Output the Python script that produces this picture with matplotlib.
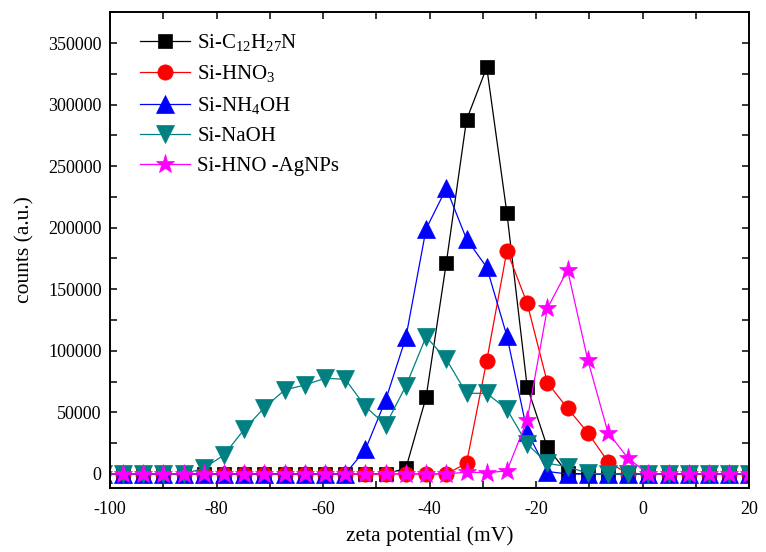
import matplotlib
matplotlib.use("Agg")
import matplotlib.pyplot as plt
from matplotlib.ticker import MultipleLocator, FormatStrFormatter

plt.rcParams['font.family'] = ['Liberation Serif', 'DejaVu Serif']
plt.rcParams['mathtext.fontset'] = 'custom'
plt.rcParams['mathtext.rm'] = 'Liberation Serif'
plt.rcParams['mathtext.it'] = 'Liberation Serif:italic'
plt.rcParams['mathtext.bf'] = 'Liberation Serif:bold'
plt.rcParams['axes.unicode_minus'] = False

# zeta potential bins (mV)
zeta = [-101.35, -97.56, -93.77, -89.97, -86.18, -82.38, -78.59, -74.79,
        -71.00, -67.20, -63.41, -59.61, -55.82, -52.02, -48.23, -44.43,
        -40.64, -36.84, -33.05, -29.25, -25.46, -21.66, -17.87, -14.07,
        -10.28, -6.48, -2.69, 1.11, 4.90, 8.70, 12.49, 16.29, 20.08]

si_c12 = [0, 0, 0, 0, 0, 0, 0, 0, 0, 0, 0, 0, 0, 0, 0, 4600,
          62300, 171600, 287500, 330300, 211700, 70900, 21700, 500,
          0, 0, 0, 0, 0, 0, 0, 0, 0]
si_hno3 = [0, 0, 0, 0, 0, 0, 0, 0, 0, 0, 0, 0, 0, 0, 0, 0,
           0, 0, 8700, 92000, 181300, 138600, 74200, 53300,
           33600, 10000, 0, 0, 0, 0, 0, 0, 0]
si_nh4oh = [0, 0, 0, 0, 0, 0, 0, 0, 0, 0, 0, 0, 0, 20000, 60100, 111000,
            199000, 232000, 190800, 167800, 112000, 34400, 2000, 0,
            0, 0, 0, 0, 0, 0, 0, 0, 0]
si_naoh = [0, 0, 0, 0, 0, 4600, 15400, 36300, 53900, 68200, 72300,
           77700, 76900, 54700, 39800, 71500, 111500, 93100, 65500, 65500,
           52500, 24400, 8700, 5900, 600, 0, 0, 0, 0, 0, 0, 0, 0]
si_agnps = [0, 0, 0, 0, 0, 0, 0, 0, 0, 0, 0, 0, 0, 0, 0, 0,
            0, 0, 1500, 1000, 2500, 43800, 134500, 165700, 92600,
            33600, 12700, 0, 0, 0, 0, 0, 0]

series = [
    (si_c12, 'Si-C$_{12}$H$_{27}$N', 'black', 's', 10),
    (si_hno3, 'Si-HNO$_3$', '#ff0000', 'o', 11),
    (si_nh4oh, 'Si-NH$_4$OH', '#0000ff', '^', 13),
    (si_naoh, 'Si-NaOH', '#008080', 'v', 13),
    (si_agnps, 'Si-HNO -AgNPs', '#ff00ff', '*', 14),
]

W, H = 766, 552
fig = plt.figure(figsize=(W / 100, H / 100), dpi=100)
ax = fig.add_axes([110 / W, 1 - 488 / H, (749 - 110) / W, (488 - 12) / H])

for ys, lab, col, mk, ms in series:
    ax.plot(zeta, ys, color=col, lw=0.9, marker=mk, ms=ms,
            markeredgewidth=0.5, markeredgecolor=col, label=lab)

ax.set_xlim(-100, 20)
ax.set_ylim(-11400, 375200)
ax.xaxis.set_major_locator(MultipleLocator(20))
ax.xaxis.set_minor_locator(MultipleLocator(10))
ax.yaxis.set_major_locator(MultipleLocator(50000))
ax.yaxis.set_minor_locator(MultipleLocator(25000))
ax.yaxis.set_major_formatter(FormatStrFormatter('%d'))
ax.tick_params(which='both', direction='in', top=True, right=True,
               length=5, width=1.1, labelsize=13, pad=6)
ax.tick_params(axis='x', pad=9)
for sp in ax.spines.values():
    sp.set_linewidth(1.4)

ax.set_xlabel('zeta potential (mV)', fontsize=15.5, labelpad=6)
ax.set_ylabel('counts (a.u.)', fontsize=15.5, labelpad=10)

ax.legend(loc='upper left', bbox_to_anchor=(140 / W, 1 - 32 / H),
          bbox_transform=fig.transFigure, frameon=False, fontsize=15,
          handlelength=2.4, handletextpad=0.35, labelspacing=0.5,
          borderpad=0, borderaxespad=0)

fig.savefig('out.png', dpi=100)
